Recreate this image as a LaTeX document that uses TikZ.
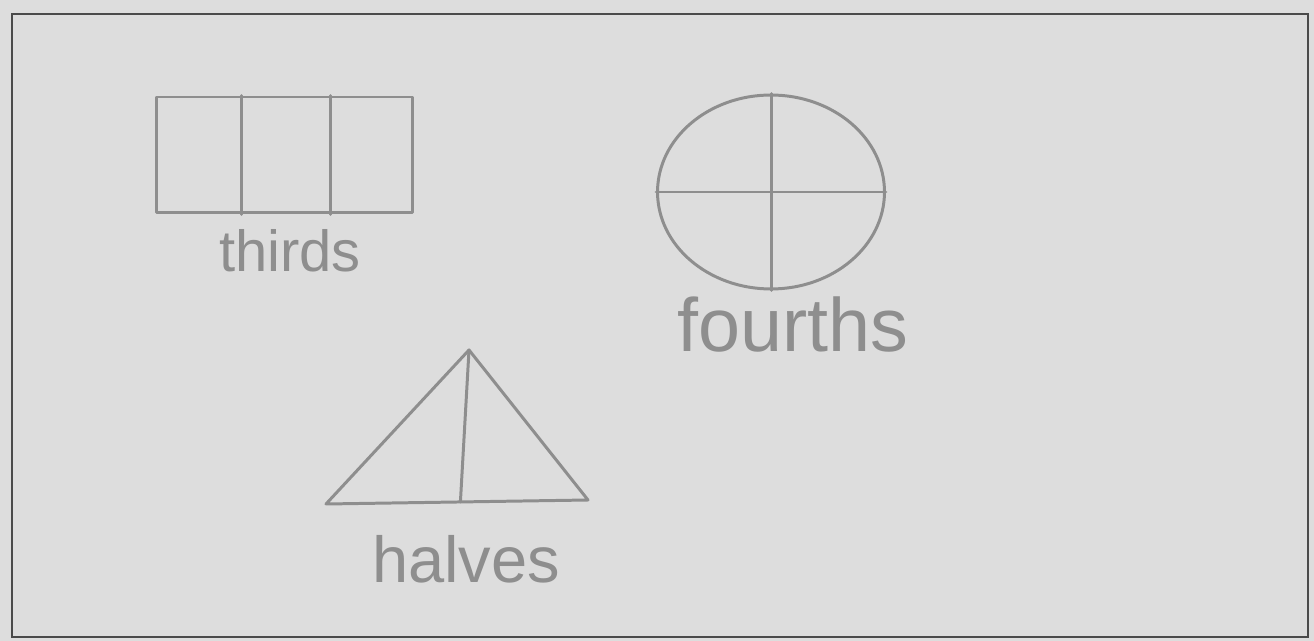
\documentclass[tikz,border=0pt]{standalone}
\usepackage{fontspec}
\setmainfont{Liberation Sans}
\usetikzlibrary{positioning, calc, shapes.geometric}
\definecolor{cpaper}{HTML}{DDDDDD}
\definecolor{cframe}{HTML}{4A4A4A}
\definecolor{cpencil}{HTML}{8E8E8E}
\tikzset{
  every picture/.style={line width=1.7pt},
  pencil/.style={draw=cpencil, line width=1.7pt, line join=round, line cap=round},
  hand/.style={text=cpencil, inner sep=0pt, anchor=base},
}

\begin{document}
\begin{tikzpicture}[x=0.02cm, y=-0.02cm]
  \useasboundingbox (0,0) rectangle (1314,641);
  \fill[cpaper] (0,0) rectangle (1314,641);
  \draw[cframe, line width=1.5pt] (12,14) rectangle (1308,637);
  % thirds
  \node[pencil, minimum width=5.14cm, minimum height=2.32cm, inner sep=0pt] (rect) at (284.5,155) {};
  \coordinate (r1) at ($(rect.north west)!0.335!(rect.north east)$);
  \coordinate (r2) at ($(rect.north west)!0.677!(rect.north east)$);
  \draw[pencil] (r1) -- (r1 |- rect.south);
  \draw[pencil] (r2) -- (r2 |- rect.south);
  \node[hand, font=\fontsize{33}{36}\selectfont] (tthirds) at (290,272) {thirds};
  % fourths
  \node[pencil, ellipse, minimum width=4.54cm, minimum height=3.88cm, inner sep=0pt] (circ) at (771,192) {};
  \draw[pencil] (circ.north) -- (circ.south);
  \draw[pencil] (circ.west) -- (circ.east);
  \node[hand, font=\fontsize{43}{46}\selectfont] (tfourths) at (793,352) {fourths};
  % halves
  \coordinate (apex) at (469,350);
  \coordinate (bl) at (326,504);
  \coordinate (br) at (588,500);
  \draw[pencil] (apex) -- (bl) -- (br) -- cycle;
  \draw[pencil] (apex) -- ($(bl)!0.513!(br)$);
  \node[hand, font=\fontsize{37}{40}\selectfont] (thalves) at (466,582) {halves};
\end{tikzpicture}
\end{document}
